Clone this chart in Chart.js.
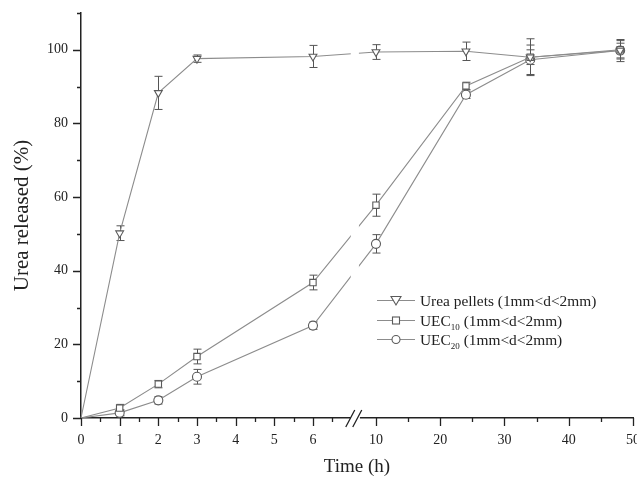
<!DOCTYPE html>
<html>
<head>
<meta charset="utf-8">
<script src="https://cdn.jsdelivr.net/npm/chart.js@4/dist/chart.umd.min.js"></script>
<style>
  html, body { margin: 0; padding: 0; background: #fff; overflow: hidden; width: 637px; height: 480px; }
  #wrap { position: relative; width: 660px; height: 480px; }
  canvas { display: block; }
  #legend { position: absolute; left: 377px; top: 291px; font-family: "Liberation Serif", "DejaVu Serif", serif; font-size: 15.4px; color: #222; line-height: 19.5px; }
  #legend .row { display: flex; align-items: center; height: 19.5px; white-space: nowrap; }
  #legend svg { margin-right: 5px; flex: none; }
  #legend sub { font-size: 9px; vertical-align: -4px; line-height: 0; }
</style>
</head>
<body>
<div id="wrap">
  <canvas id="c" width="660" height="480"></canvas>
  <div id="legend"></div>
</div>
<script>
// ---- data ----
const timeH = [0, 1, 2, 3, 6, 10, 24, 34, 48];
const ureaPellets = [0, 50.2, 88.3, 97.6, 98.2, 99.4, 99.6, 98, 99.8];
const ureaPelletsErr = [0, 2, 4.5, 1, 3, 2, 2.5, 2, 2];
const uec10 = [0, 2.7, 9.2, 16.7, 36.8, 57.8, 90.2, 98, 100];
const uec10Err = [0, 1, 1, 2, 2, 3, 1, 5, 2.5];
const uec20 = [0, 1.4, 4.8, 11.2, 25.1, 47.3, 87.8, 97.3, 99.8];
const uec20Err = [0, 0.8, 1, 2, 1, 2.5, 1, 4, 3];
const seriesLabels = ['Urea pellets (1mm<d<2mm)', 'UEC10 (1mm<d<2mm)', 'UEC20 (1mm<d<2mm)'];
const xMajorTicks = [0, 1, 2, 3, 4, 5, 6, 10, 20, 30, 40, 50];
const xMinorTicks = [0.5, 1.5, 2.5, 3.5, 4.5, 5.5, 6.5, 15, 25, 35, 45];
const yMajorTicks = [0, 20, 40, 60, 80, 100];
const yMinorTicks = [10, 30, 50, 70, 90, 110];

// ---- broken x-axis: 0..6.9 linear, then 7.5..50 compressed ----
const BREAK_L = 6.9, BREAK_R = 7.5, R0 = 7.63, K = 0.1662;
function rightU(x) { return R0 + (x - 10) * K; }
function toU(x) {
  if (x <= BREAK_L) return x;
  if (x >= BREAK_R) return rightU(x);
  const t = (x - BREAK_L) / (BREAK_R - BREAK_L);
  return BREAK_L + t * (rightU(BREAK_R) - BREAK_L);
}
function fromU(u) {
  if (u <= BREAK_L) return u;
  const uR = rightU(BREAK_R);
  if (u >= uR) return 10 + (u - R0) / K;
  const t = (u - BREAK_L) / (uR - BREAK_L);
  return BREAK_L + t * (BREAK_R - BREAK_L);
}
class BrokenScale extends Chart.LinearScale {
  getPixelForValue(v) {
    const u0 = toU(this.min), u1 = toU(this.max);
    return this.getPixelForDecimal((toU(v) - u0) / (u1 - u0));
  }
  getValueForPixel(p) {
    const u0 = toU(this.min), u1 = toU(this.max);
    return fromU(u0 + this.getDecimalForPixel(p) * (u1 - u0));
  }
}
BrokenScale.id = 'broken';
BrokenScale.defaults = Chart.LinearScale.defaults;
Chart.register(BrokenScale);

const pts = ys => timeH.map((t, i) => ({ x: t, y: ys[i] }));
const errs = [ureaPelletsErr, uec10Err, uec20Err];
const TEXT = '#222';
const LINE = '#8c8c8c';
const MARK = '#5a5a5a';

function ds(label, ys, style, rot) {
  return {
    label, data: pts(ys), showLine: true,
    borderColor: LINE, borderWidth: 1.1, tension: 0,
    pointStyle: style, rotation: rot,
    pointRadius: ctx => ctx.dataIndex === 0 ? 0 : 4.5,
    pointBorderColor: MARK, pointBackgroundColor: '#fff', pointBorderWidth: 1.1,
    clip: false
  };
}

const decor = {
  id: 'decor',
  beforeDatasetsDraw(chart) {
    const { ctx } = chart;
    const xs = chart.scales.x, ys = chart.scales.y;
    ctx.save();
    ctx.strokeStyle = '#555';
    ctx.lineWidth = 1;
    chart.data.datasets.forEach((d, di) => {
      d.data.forEach((p, i) => {
        const e = errs[di][i];
        if (!e) return;
        const px = Math.round(xs.getPixelForValue(p.x)) + 0.5;
        const top = ys.getPixelForValue(p.y + e), bot = ys.getPixelForValue(p.y - e);
        ctx.beginPath();
        ctx.moveTo(px, top); ctx.lineTo(px, bot);
        ctx.moveTo(px - 4, top); ctx.lineTo(px + 4, top);
        ctx.moveTo(px - 4, bot); ctx.lineTo(px + 4, bot);
        ctx.stroke();
      });
    });
    ctx.restore();
  },
  afterDatasetsDraw(chart) {
    const { ctx, chartArea } = chart;
    const xs = chart.scales.x;
    const a = xs.getPixelForValue(BREAK_L) + 3, b = xs.getPixelForValue(BREAK_R) - 1;
    ctx.save();
    ctx.fillStyle = '#fff';
    ctx.fillRect(a, chartArea.top, b - a, chartArea.bottom - chartArea.top - 2);
    ctx.restore();
  },
  afterDraw(chart) {
    const { ctx, chartArea } = chart;
    const xs = chart.scales.x, ys = chart.scales.y;
    const y0 = chartArea.bottom, x0 = chartArea.left;
    ctx.save();
    ctx.strokeStyle = TEXT;
    ctx.lineWidth = 1.3;
    ctx.beginPath();
    xMajorTicks.forEach(v => { const p = Math.round(xs.getPixelForValue(v)) + 0.5; ctx.moveTo(p, y0); ctx.lineTo(p, y0 + 8); });
    xMinorTicks.forEach(v => { const p = Math.round(xs.getPixelForValue(v)) + 0.5; ctx.moveTo(p, y0); ctx.lineTo(p, y0 + 4); });
    yMajorTicks.forEach(v => { const p = Math.round(ys.getPixelForValue(v)) + 0.5; ctx.moveTo(x0, p); ctx.lineTo(x0 - 8, p); });
    yMinorTicks.forEach(v => { const p = Math.round(ys.getPixelForValue(v)) + 0.5; ctx.moveTo(x0, p); ctx.lineTo(x0 - 4, p); });
    ctx.stroke();
    // axis break
    const a = xs.getPixelForValue(BREAK_L), b = xs.getPixelForValue(BREAK_R);
    ctx.fillStyle = '#fff';
    ctx.fillRect(a + 3, y0 - 3, b - a - 3, 6);
    ctx.beginPath();
    ctx.moveTo(a - 2, y0 + 9); ctx.lineTo(a + 7, y0 - 8);
    ctx.moveTo(a + 5, y0 + 9); ctx.lineTo(a + 14, y0 - 8);
    ctx.stroke();
    ctx.restore();
  }
};

const FONT = "'Liberation Serif', 'DejaVu Serif', serif";
new Chart(document.getElementById('c'), {
  type: 'line',
  data: {
    datasets: [
      ds(seriesLabels[0], ureaPellets, 'triangle', 180),
      ds(seriesLabels[1], uec10, 'rect', 0),
      ds(seriesLabels[2], uec20, 'circle', 0)
    ]
  },
  options: {
    responsive: false,
    animation: false,
    layout: { padding: { top: 13, right: 27, left: 0, bottom: 0 } },
    plugins: { legend: { display: false }, tooltip: { enabled: false } },
    scales: {
      x: {
        type: 'broken', min: 0, max: 50,
        afterBuildTicks: s => { s.ticks = xMajorTicks.map(v => ({ value: v })); },
        afterFit: s => { s.height = 62; },
        grid: { display: false, drawTicks: false },
        border: { display: true, color: TEXT, width: 1.5 },
        ticks: { padding: 14, color: TEXT, font: { family: FONT, size: 14 }, maxRotation: 0, autoSkip: false, callback: v => String(v) },
        title: { display: true, text: 'Time (h)', color: TEXT, font: { family: FONT, size: 19 }, padding: { top: 0, bottom: 2 } }
      },
      y: {
        type: 'linear', min: 0, max: 110,
        afterBuildTicks: s => { s.ticks = yMajorTicks.map(v => ({ value: v })); },
        afterFit: s => { s.width = 81; s.paddingTop = 0; s.paddingBottom = 0; },
        grid: { display: false, drawTicks: false },
        border: { display: true, color: TEXT, width: 1.5 },
        ticks: { padding: 13, color: TEXT, font: { family: FONT, size: 14 }, autoSkip: false, callback: v => String(v) },
        title: { display: true, text: 'Urea released (%)', color: TEXT, font: { family: FONT, size: 21 }, padding: { top: 10, bottom: 0 } }
      }
    }
  },
  plugins: [decor]
});

// ---- legend (HTML) ----
const markerSvg = {
  triangle: '<polygon points="14,3.5 24,3.5 19,12" fill="#fff" stroke="' + MARK + '" stroke-width="1.1"/>',
  rect: '<rect x="15.5" y="4" width="7" height="7" fill="#fff" stroke="' + MARK + '" stroke-width="1.1"/>',
  circle: '<circle cx="19" cy="7.5" r="4" fill="#fff" stroke="' + MARK + '" stroke-width="1.1"/>'
};
const styles = ['triangle', 'rect', 'circle'];
const legendHtml = seriesLabels.map((lab, i) => {
  const txt = lab.replace(/<|>/g, c => c === '<' ? '&lt;' : '&gt;').replace(/^UEC(\d+)/, 'UEC<sub>$1</sub>');
  return '<div class="row"><svg width="38" height="15" viewBox="0 0 38 15">' +
    '<line x1="0" y1="7.5" x2="38" y2="7.5" stroke="' + LINE + '" stroke-width="1.1"/>' +
    markerSvg[styles[i]] + '</svg><span>' + txt + '</span></div>';
}).join('');
document.getElementById('legend').innerHTML = legendHtml;
</script>
</body>
</html>
